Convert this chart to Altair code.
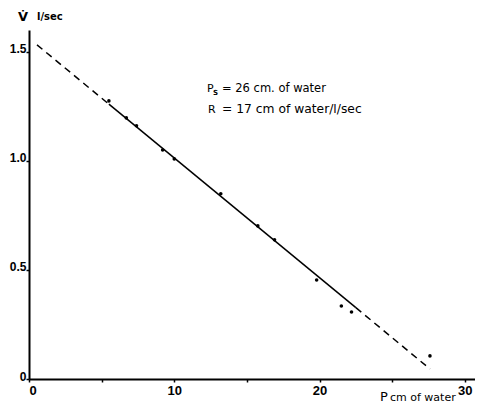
import altair as alt
import pandas as pd

FONT = "DejaVu Sans"
TICKFONT = "Liberation Sans"

# measured points: pressure (cm of water) vs flow (l/sec)
pressure = [5.5, 6.7, 7.4, 9.2, 10.0, 13.2, 15.75, 16.9, 19.8, 21.5, 22.2, 27.6]
flow = [1.275, 1.197, 1.161, 1.05, 1.009, 0.849, 0.702, 0.638, 0.454, 0.335, 0.307, 0.106]

# fitted line drawn in three pieces
seg_x1 = [0.55, 5.5, 22.5]
seg_x2 = [5.5, 22.5, 27.6]
seg_y1 = [1.532, 1.26, 0.327]
seg_y2 = [1.26, 0.327, 0.046]
seg_style = ["dashed", "solid", "dashed"]

x_ticks = [0, 5, 10, 15, 20, 25, 30]
y_ticks = [0, 0.5, 1.0, 1.5]

ann_ps = ["P", "S", "= 26 cm. of water"]
ann_r = ["R", "= 17 cm of water/l/sec"]
y_title = ["V\u0307", "l/sec"]
x_title = ["P", "cm of water"]

pts = pd.DataFrame({"p": pressure, "v": flow})
segs = pd.DataFrame({"x1": seg_x1, "x2": seg_x2, "y1": seg_y1, "y2": seg_y2, "s": seg_style})

xs = alt.Scale(domain=[0, 30.7], nice=False)
ys = alt.Scale(domain=[0, 1.6], nice=False)

x_axis = alt.Axis(values=x_ticks, labelExpr="datum.value % 10 == 0 ? datum.label : ''",
                  title=None, grid=False, domainColor="black", domainWidth=2,
                  tickColor="black", tickSize=3, tickWidth=1.5, labelFont=TICKFONT,
                  labelFontSize=13, labelFontWeight="bold", labelColor="black", labelPadding=2)
y_axis = alt.Axis(values=y_ticks, labelExpr="datum.value == 0 ? '0' : format(datum.value, '.1f')",
                  title=None, grid=False, domainColor="black", domainWidth=2,
                  tickColor="black", tickSize=3, tickWidth=1.5, labelFont=TICKFONT,
                  labelFontSize=12, labelFontWeight="bold", labelColor="black", labelPadding=0,
                  labelBaseline="alphabetic", labelOffset=1)

points = alt.Chart(pts).mark_circle(size=13, color="black", opacity=1).encode(
    x=alt.X("p:Q", scale=xs, axis=x_axis),
    y=alt.Y("v:Q", scale=ys, axis=y_axis),
)

dashed = alt.Chart(segs).transform_filter("datum.s == 'dashed'").mark_rule(
    color="black", strokeWidth=1.5, strokeDash=[7, 5]).encode(
    x=alt.X("x1:Q", scale=xs), x2="x2:Q", y=alt.Y("y1:Q", scale=ys), y2="y2:Q")
solid = alt.Chart(segs).transform_filter("datum.s == 'solid'").mark_rule(
    color="black", strokeWidth=1.5).encode(
    x=alt.X("x1:Q", scale=xs), x2="x2:Q", y=alt.Y("y1:Q", scale=ys), y2="y2:Q")


def label(txt, x, y, size, weight="normal"):
    return alt.Chart(pd.DataFrame({"t": [txt]})).mark_text(
        align="left", baseline="alphabetic", fontSize=size, fontWeight=weight,
        font=FONT, color="black").encode(text="t:N", x=alt.value(x), y=alt.value(y))


texts = [
    label(ann_ps[0], 178, 62, 11),
    label(ann_ps[1], 184, 65, 7, "bold"),
    label(ann_ps[2], 193, 62, 11.5),
    label(ann_r[0], 179, 83, 11),
    label(ann_r[1], 193, 83, 12.3),
    label(y_title[0], -11, -9, 13, "bold"),
    label(y_title[1], 8, -10, 10, "bold"),
    label(x_title[0], 351, 371, 13),
    label(x_title[1], 361, 371, 11),
]

chart = alt.layer(dashed, solid, points, *texts).properties(
    width=446, height=349,
    background="white",
    autosize=alt.AutoSizeParams(type="none"),
    padding={"left": 21, "top": 22, "right": 0, "bottom": 26},
).configure_view(strokeWidth=0)

chart.save("out.html", embed_options={"renderer": "svg", "actions": False})
